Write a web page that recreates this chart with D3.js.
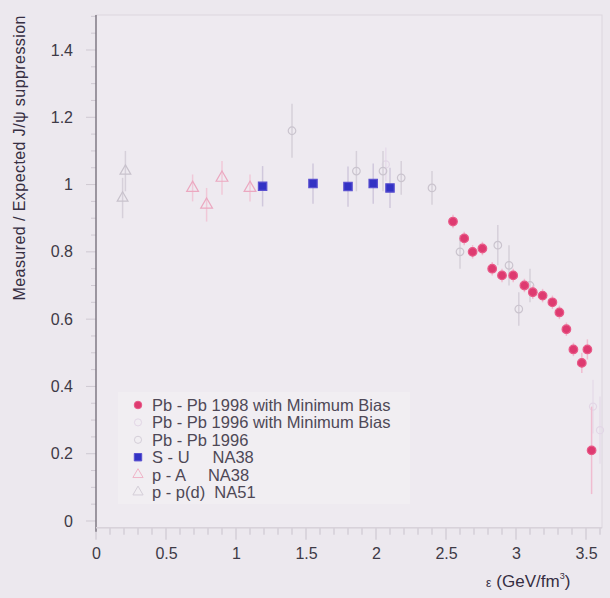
<!DOCTYPE html>
<html>
<head>
<meta charset="utf-8">
<script src="https://cdn.jsdelivr.net/npm/d3@7"></script>
<style>
  body { margin: 0; background: #ece8ee; }
  svg { display: block; }
</style>
</head>
<body>
<svg id="chart" width="610" height="598"></svg>
<script>
// Pb - Pb 1998 with minimum bias (red dots)
var pb98Eps = [2.55, 2.63, 2.69, 2.76, 2.83, 2.90, 2.98, 3.06, 3.12, 3.19, 3.26, 3.31, 3.36, 3.41, 3.47, 3.51, 3.54];
var pb98Val = [0.89, 0.84, 0.80, 0.81, 0.75, 0.73, 0.73, 0.70, 0.68, 0.67, 0.65, 0.62, 0.57, 0.51, 0.47, 0.51, 0.21];
var pb98Err = [0.02, 0.02, 0.02, 0.02, 0.02, 0.02, 0.02, 0.02, 0.02, 0.02, 0.02, 0.02, 0.02, 0.02, 0.03, 0.03, 0.13];

// Pb - Pb 1996 with minimum bias (very faint lavender)
var pb96mbEps = [2.07, 3.55, 3.60];
var pb96mbVal = [1.06, 0.34, 0.27];
var pb96mbErr = [0.05, 0.08, 0.10];

// Pb - Pb 1996 (light grey)
var pb96Eps = [1.40, 1.86, 2.05, 2.18, 2.40, 2.60, 2.87, 2.95, 3.02, 3.10];
var pb96Val = [1.16, 1.04, 1.04, 1.02, 0.99, 0.80, 0.82, 0.76, 0.63, 0.70];
var pb96Err = [0.08, 0.06, 0.06, 0.05, 0.05, 0.05, 0.06, 0.06, 0.05, 0.05];

// S - U NA38 (blue squares)
var suEps = [1.19, 1.55, 1.80, 1.98, 2.10];
var suVal = [0.995, 1.003, 0.994, 1.003, 0.99];
var suErr = [0.06, 0.06, 0.06, 0.06, 0.06];

// p - A NA38 (pink)
var paEps = [0.69, 0.79, 0.90, 1.10];
var paVal = [0.99, 0.94, 1.02, 0.99];
var paErr = [0.04, 0.05, 0.05, 0.04];

// p - p(d) NA51 (grey)
var ppEps = [0.21, 0.19];
var ppVal = [1.04, 0.96];
var ppErr = [0.06, 0.06];

var xTicks = [0, 0.5, 1, 1.5, 2, 2.5, 3, 3.5];
var yTicks = [0, 0.2, 0.4, 0.6, 0.8, 1, 1.2, 1.4];
var legendLabels = ["Pb - Pb 1998 with Minimum Bias", "Pb - Pb 1996 with Minimum Bias", "Pb - Pb 1996",
                    "S - U     NA38", "p - A     NA38", "p - p(d)  NA51"];

var svg = d3.select('#chart');

var x = d3.scaleLinear().domain([0, 3.5]).range([96, 586]);
var y = d3.scaleLinear().domain([0, 1.4]).range([521, 50]);
var axisY = y(-0.02);

// frame
svg.append('rect')
    .attr('x', x(0)).attr('y', 15)
    .attr('width', 602 - x(0)).attr('height', axisY - 15)
    .attr('fill', '#eeeaf0')
    .attr('stroke', '#dcd6de');

// legend box
svg.append('rect')
    .attr('x', 118).attr('y', 392)
    .attr('width', 292).attr('height', 112)
    .attr('fill', '#f1eef2');

// axes
var xAxis = d3.axisBottom(x).tickValues(xTicks).tickSize(0).tickFormat(d3.format('~g'));
var yAxis = d3.axisLeft(y).tickValues(yTicks).tickSize(0).tickFormat(d3.format('~g'));

var gx = svg.append('g').attr('transform', 'translate(0,' + axisY + ')').call(xAxis);
gx.select('.domain').remove();
gx.selectAll('text')
    .attr('dy', 0).attr('y', 31)
    .style('font-family', 'Liberation Sans, Arial, sans-serif')
    .style('font-size', '16px')
    .attr('fill', '#3e3a46');

var gy = svg.append('g').attr('transform', 'translate(' + (x(0) - 14) + ',0)').call(yAxis);
gy.select('.domain').remove();
gy.selectAll('text')
    .attr('x', -9)
    .style('font-family', 'Liberation Sans, Arial, sans-serif')
    .style('font-size', '16px')
    .attr('fill', '#3e3a46');

// minor ticks
svg.append('g').selectAll('line')
    .data(d3.range(0, 3.81, 0.1))
    .join('line')
    .attr('x1', function(d) { return x(d); }).attr('x2', function(d) { return x(d); })
    .attr('y1', axisY).attr('y2', function(d, i) { return axisY + (i % 5 === 0 ? 12 : 7); })
    .attr('stroke', '#c8c2cc').attr('stroke-width', 1);
svg.append('g').selectAll('line')
    .data(d3.range(0, 1.51, 0.05))
    .join('line')
    .attr('y1', function(d) { return y(d); }).attr('y2', function(d) { return y(d); })
    .attr('x1', x(0)).attr('x2', function(d, i) { return x(0) - (i % 4 === 0 ? 10 : 5); })
    .attr('stroke', '#cfc9d2').attr('stroke-width', 1);

svg.append('line')
    .attr('x1', x(0)).attr('x2', x(0))
    .attr('y1', 15).attr('y2', axisY + 4)
    .attr('stroke', '#6a6470').attr('stroke-width', 1.2);
svg.append('line')
    .attr('x1', x(0)).attr('x2', 602)
    .attr('y1', axisY).attr('y2', axisY)
    .attr('stroke', '#d8d2da').attr('stroke-width', 1.5);

// axis titles
svg.append('text')
    .attr('transform', 'translate(25,158) rotate(-90)')
    .attr('text-anchor', 'middle')
    .attr('textLength', 285)
    .style('font-family', 'Liberation Sans, Arial, sans-serif')
    .style('font-size', '16px')
    .attr('fill', '#362e42')
    .text('Measured / Expected  J/\u03c8 suppression');

var xt = svg.append('text')
    .attr('x', 486).attr('y', 587)
    .style('font-family', 'Liberation Sans, Arial, sans-serif')
    .style('font-size', '17px')
    .attr('fill', '#362e42');
xt.append('tspan').style('font-size', '12px').text('\u03b5');
xt.append('tspan').attr('dx', 5).text('(GeV/fm');
xt.append('tspan').attr('dy', -8).style('font-size', '9px').text('3');
xt.append('tspan').attr('dy', 8).text(')');

// series
function rows(eps, val, err) {
    return eps.map(function(e, i) { return {e: e, v: val[i], s: err[i]}; });
}

function errorBars(data, color, width) {
    svg.append('g').selectAll('line')
        .data(data)
        .join('line')
        .attr('x1', function(d) { return x(d.e); }).attr('x2', function(d) { return x(d.e); })
        .attr('y1', function(d) { return y(d.v - d.s); }).attr('y2', function(d) { return y(d.v + d.s); })
        .attr('stroke', color).attr('stroke-width', width);
}

function symbols(data, type, size, fill, stroke) {
    svg.append('g').selectAll('path')
        .data(data)
        .join('path')
        .attr('transform', function(d) { return 'translate(' + x(d.e) + ',' + y(d.v) + ')'; })
        .attr('d', d3.symbol().type(type).size(size))
        .attr('fill', fill)
        .attr('stroke', stroke)
        .attr('stroke-width', 1.2);
}

var pp = rows(ppEps, ppVal, ppErr);
var pa = rows(paEps, paVal, paErr);
var pb96 = rows(pb96Eps, pb96Val, pb96Err);
var pb96mb = rows(pb96mbEps, pb96mbVal, pb96mbErr);
var su = rows(suEps, suVal, suErr);
var pb98 = rows(pb98Eps, pb98Val, pb98Err);

errorBars(pp, '#d6d0da', 1.5);
symbols(pp, d3.symbolTriangle, 50, 'none', '#c8c2cc');
errorBars(pb96mb, '#e6dcea', 1.5);
symbols(pb96mb, d3.symbolCircle, 40, 'none', '#e2d6e6');
errorBars(pb96, '#d6d0da', 1.5);
symbols(pb96, d3.symbolCircle, 45, 'none', '#cac4ce');
errorBars(pa, '#f0c8d8', 1.5);
symbols(pa, d3.symbolTriangle, 60, 'none', '#eba8c0');
errorBars(su, '#d0c8dc', 1.5);
symbols(su, d3.symbolSquare, 70, '#3232c4', '#5a50d0');
errorBars(pb98, '#f0bcd0', 1.5);
symbols(pb98, d3.symbolCircle, 58, '#de3a70', '#e85a88');

// legend
var legendMarks = [
    {type: d3.symbolCircle, size: 45, fill: '#de3a70', stroke: '#e85a88'},
    {type: d3.symbolCircle, size: 40, fill: 'none', stroke: '#e2d6e6'},
    {type: d3.symbolCircle, size: 40, fill: 'none', stroke: '#d4ced8'},
    {type: d3.symbolSquare, size: 55, fill: '#3232c4', stroke: '#5a50d0'},
    {type: d3.symbolTriangle, size: 45, fill: 'none', stroke: '#f0b4c8'},
    {type: d3.symbolTriangle, size: 45, fill: 'none', stroke: '#d4ced8'}
];
var lg = svg.append('g').selectAll('g')
    .data(legendLabels)
    .join('g')
    .attr('transform', function(d, i) { return 'translate(138,' + (405 + i * 17.4) + ')'; });
lg.append('path')
    .attr('d', function(d, i) { return d3.symbol().type(legendMarks[i].type).size(legendMarks[i].size)(); })
    .attr('fill', function(d, i) { return legendMarks[i].fill; })
    .attr('stroke', function(d, i) { return legendMarks[i].stroke; });
lg.append('text')
    .attr('x', 14).attr('y', 6)
    .style('font-family', 'Liberation Sans, Arial, sans-serif')
    .style('font-size', '16.5px')
    .style('white-space', 'pre')
    .attr('fill', '#4e4856')
    .text(function(d) { return d; });
</script>
</body>
</html>
